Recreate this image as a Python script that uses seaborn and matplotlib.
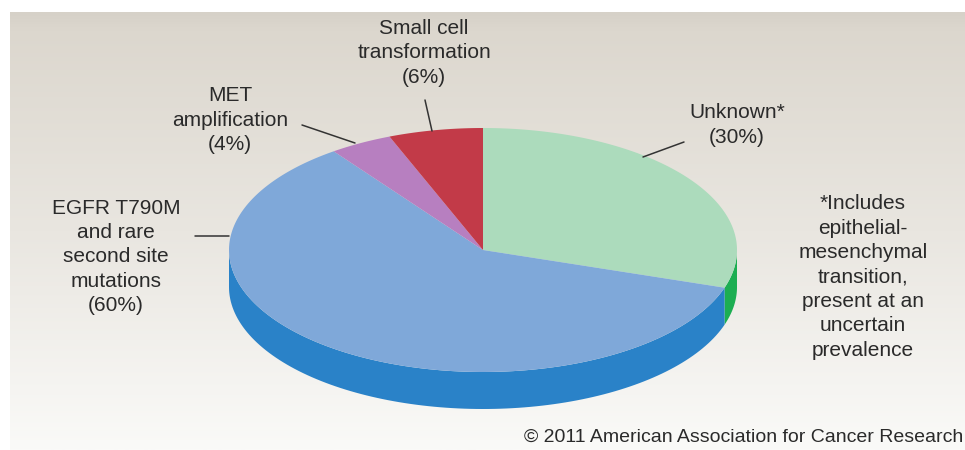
import numpy as np
import matplotlib
matplotlib.use("Agg")
import matplotlib.pyplot as plt
import seaborn as sns
from matplotlib.colors import LinearSegmentedColormap

# Data
categories = ["Unknown*", "EGFR T790M\nand rare\nsecond site\nmutations", "MET\namplification", "Small cell\ntransformation"]
shares = [30, 60, 4, 6]
top_colors = ["#acdbbc", "#7fa8d9", "#b77fc0", "#c23a48"]
side_colors = ["#1cae52", "#2a82c8", "#8e4f9a", "#8f2231"]
footnote = "*Includes\nepithelial-\nmesenchymal\ntransition,\npresent at an\nuncertain\nprevalence"
credit = "\u00a9 2011 American Association for Cancer Research"

sns.set_style("white")
plt.rcParams["font.family"] = ["Liberation Sans", "DejaVu Sans"]

fig = plt.figure(figsize=(9.65, 4.5), dpi=100)
ax = fig.add_axes([0, 0, 1, 1])
ax.set_xlim(0, 965)
ax.set_ylim(450, 0)
ax.axis("off")

# Panel background gradient
cmap = LinearSegmentedColormap.from_list(
    "panel", [(0, "#d6d1c8"), (0.04, "#dcd7ce"), (0.5, "#e9e6e0"), (1, "#fafaf8")]
)
grad = np.linspace(0, 1, 256).reshape(-1, 1)
ax.imshow(grad, extent=(10, 965, 450, 12), aspect="auto", cmap=cmap, zorder=0)

# Pie geometry (pixel space)
cx, cy = 483, 250
rx, ry = 254, 122
depth = 37


def edge(t, dy=0.0):
    r = np.radians(t)
    return cx + rx * np.cos(r), cy - ry * np.sin(r) + dy


fracs = np.array(shares) / np.sum(shares)
bounds = 90 - 360 * np.concatenate([[0], np.cumsum(fracs)])

# side walls (front half only: angles in [-180, 0])
for i in range(len(shares)):
    t_hi, t_lo = bounds[i], bounds[i + 1]
    for k in (-1, 0, 1):
        a = max(t_lo, -180 + 360 * k)
        b = min(t_hi, 0 + 360 * k)
        if b <= a:
            continue
        ts = np.linspace(a, b, 120)
        x1, y1 = edge(ts)
        x2, y2 = edge(ts[::-1], depth)
        ax.fill(np.r_[x1, x2], np.r_[y1, y2], color=side_colors[i], lw=0, zorder=2)

# top surface
for i in range(len(shares)):
    ts = np.linspace(bounds[i], bounds[i + 1], 200)
    x, y = edge(ts)
    ax.fill(np.r_[cx, x], np.r_[cy, y], color=top_colors[i], lw=0, zorder=3)

# labels
txt = dict(color="#2a2a2a", fontsize=15, ha="center", va="center",
           multialignment="center", linespacing=1.36)
label_pos = [(737, 125), (116, 257), (230, 120), (424, 53)]
for i, name in enumerate(categories):
    x, y = label_pos[i]
    ax.text(x, y, f"{name}\n({shares[i]}%)", **txt)

leader = [((643, 157), (684, 142)), ((195, 236), (229, 236)),
          ((302, 125), (355, 143)), ((425, 100), (432, 131))]
for (x0, y0), (x1, y1) in leader:
    ax.plot([x0, x1], [y0, y1], color="#333333", lw=1.1, zorder=4)

ax.text(863, 277, footnote, **txt)
ax.text(963, 437, credit, color="#2a2a2a", fontsize=14, ha="right", va="center")

fig.savefig("out.png", dpi=100)
